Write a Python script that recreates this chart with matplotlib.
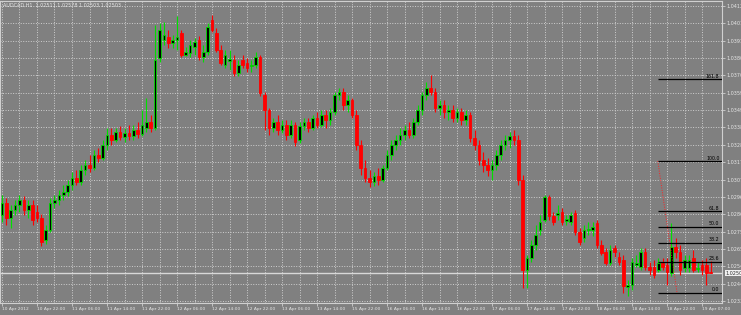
import matplotlib
matplotlib.use('Agg')
import matplotlib.pyplot as plt

# AUDCAD H1 candles, 10 Apr 14:00 .. 19 Apr 07:00 (2012)
opens = [1.02855, 1.02928, 1.02837, 1.02886, 1.02916, 1.02946, 1.02886, 1.02916, 1.02874, 1.02837,
         1.02704, 1.02765, 1.02928, 1.02946, 1.02976, 1.02995, 1.03037, 1.03079, 1.03055, 1.03128,
         1.03158, 1.03140, 1.03218, 1.03200, 1.03279, 1.03339, 1.03309, 1.03358, 1.03327, 1.03352,
         1.03333, 1.03370, 1.03346, 1.03382, 1.03418, 1.03382, 1.03805, 1.03914, 1.03932, 1.03896,
         1.03914, 1.03956, 1.03823, 1.03835, 1.03872, 1.03914, 1.03811, 1.03841, 1.04035, 1.03956,
         1.03853, 1.03763, 1.03787, 1.03793, 1.03715, 1.03793, 1.03775, 1.03757, 1.03763, 1.03811,
         1.03581, 1.03491, 1.03382, 1.03418, 1.03370, 1.03400, 1.03339, 1.03400, 1.03309, 1.03394,
         1.03418, 1.03382, 1.03442, 1.03400, 1.03460, 1.03430, 1.03479, 1.03581, 1.03600, 1.03521,
         1.03551, 1.03460, 1.03279, 1.03140, 1.03079, 1.03055, 1.03091, 1.03067, 1.03140, 1.03218,
         1.03279, 1.03309, 1.03339, 1.03370, 1.03339, 1.03418, 1.03491, 1.03581, 1.03624, 1.03600,
         1.03503, 1.03521, 1.03479, 1.03491, 1.03442, 1.03479, 1.03430, 1.03460, 1.03321, 1.03279,
         1.03188, 1.03158, 1.03128, 1.03158, 1.03218, 1.03279, 1.03309, 1.03333, 1.03309, 1.03067,
         1.02523, 1.02595, 1.02674, 1.02765, 1.02825, 1.02964, 1.02849, 1.02855, 1.02874, 1.02819,
         1.02813, 1.02868, 1.02753, 1.02716, 1.02765, 1.02765, 1.02807, 1.02674, 1.02632, 1.02565,
         1.02656, 1.02601, 1.02583, 1.02420, 1.02432, 1.02553, 1.02541, 1.02632, 1.02541, 1.02541,
         1.02523, 1.02565, 1.02553, 1.02505, 1.02662, 1.02632, 1.02535, 1.02535, 1.02595, 1.02529,
         1.02553, 1.02553, 1.02511]
highs = [1.02976, 1.02958, 1.02916, 1.02946, 1.02976, 1.02970, 1.02946, 1.02946, 1.02916, 1.02861,
         1.02795, 1.02958, 1.02976, 1.03007, 1.03037, 1.03067, 1.03116, 1.03128, 1.03158, 1.03188,
         1.03218, 1.03249, 1.03261, 1.03309, 1.03382, 1.03382, 1.03382, 1.03394, 1.03382, 1.03400,
         1.03400, 1.03418, 1.03491, 1.03563, 1.03460, 1.04005, 1.04017, 1.04023, 1.03974, 1.03944,
         1.04059, 1.03974, 1.03872, 1.03914, 1.03926, 1.03938, 1.03884, 1.04017, 1.04065, 1.03986,
         1.03884, 1.03853, 1.03853, 1.03823, 1.03793, 1.03823, 1.03805, 1.03793, 1.03841, 1.03823,
         1.03600, 1.03503, 1.03442, 1.03460, 1.03430, 1.03430, 1.03430, 1.03418, 1.03418, 1.03442,
         1.03442, 1.03460, 1.03479, 1.03491, 1.03491, 1.03503, 1.03600, 1.03624, 1.03624, 1.03581,
         1.03563, 1.03491, 1.03309, 1.03188, 1.03128, 1.03116, 1.03140, 1.03158, 1.03249, 1.03309,
         1.03339, 1.03382, 1.03400, 1.03418, 1.03442, 1.03521, 1.03600, 1.03660, 1.03702, 1.03624,
         1.03551, 1.03551, 1.03521, 1.03521, 1.03503, 1.03503, 1.03491, 1.03479, 1.03370, 1.03309,
         1.03237, 1.03200, 1.03188, 1.03249, 1.03309, 1.03339, 1.03358, 1.03370, 1.03339, 1.03097,
         1.02613, 1.02704, 1.02795, 1.02855, 1.02976, 1.02976, 1.02874, 1.02916, 1.02898, 1.02855,
         1.02874, 1.02886, 1.02777, 1.02795, 1.02813, 1.02813, 1.02825, 1.02704, 1.02656, 1.02674,
         1.02674, 1.02632, 1.02613, 1.02462, 1.02595, 1.02613, 1.02656, 1.02656, 1.02571, 1.02583,
         1.02595, 1.02595, 1.02595, 1.02807, 1.02716, 1.02674, 1.02613, 1.02613, 1.02644, 1.02571,
         1.02583, 1.02595, 1.02578]
lows = [1.02813, 1.02795, 1.02777, 1.02855, 1.02874, 1.02855, 1.02837, 1.02795, 1.02813, 1.02668,
        1.02680, 1.02753, 1.02898, 1.02916, 1.02946, 1.02970, 1.03007, 1.03037, 1.03037, 1.03097,
        1.03116, 1.03128, 1.03176, 1.03188, 1.03249, 1.03279, 1.03297, 1.03309, 1.03297, 1.03309,
        1.03309, 1.03321, 1.03333, 1.03358, 1.03358, 1.03370, 1.03781, 1.03884, 1.03866, 1.03866,
        1.03853, 1.03811, 1.03817, 1.03811, 1.03823, 1.03793, 1.03781, 1.03823, 1.03962, 1.03841,
        1.03763, 1.03745, 1.03733, 1.03696, 1.03696, 1.03745, 1.03721, 1.03721, 1.03745, 1.03575,
        1.03370, 1.03339, 1.03358, 1.03339, 1.03352, 1.03309, 1.03321, 1.03273, 1.03291, 1.03370,
        1.03358, 1.03370, 1.03382, 1.03388, 1.03382, 1.03400, 1.03460, 1.03551, 1.03491, 1.03479,
        1.03442, 1.03249, 1.03097, 1.03055, 1.03025, 1.03031, 1.03037, 1.03055, 1.03128, 1.03188,
        1.03249, 1.03279, 1.03309, 1.03321, 1.03321, 1.03400, 1.03460, 1.03551, 1.03581, 1.03479,
        1.03460, 1.03442, 1.03430, 1.03418, 1.03418, 1.03400, 1.03400, 1.03297, 1.03249, 1.03158,
        1.03116, 1.03091, 1.03067, 1.03128, 1.03188, 1.03249, 1.03261, 1.03279, 1.03037, 1.02414,
        1.02414, 1.02571, 1.02644, 1.02734, 1.02813, 1.02825, 1.02795, 1.02825, 1.02795, 1.02795,
        1.02795, 1.02734, 1.02674, 1.02692, 1.02734, 1.02728, 1.02656, 1.02613, 1.02553, 1.02553,
        1.02601, 1.02553, 1.02384, 1.02365, 1.02402, 1.02541, 1.02523, 1.02523, 1.02492, 1.02474,
        1.02511, 1.02523, 1.02432, 1.02486, 1.02595, 1.02492, 1.02511, 1.02511, 1.02511, 1.02511,
        1.02492, 1.02432, 1.02503]
closes = [1.02928, 1.02837, 1.02886, 1.02916, 1.02946, 1.02886, 1.02916, 1.02825, 1.02837, 1.02692,
          1.02765, 1.02928, 1.02946, 1.02976, 1.02995, 1.03037, 1.03079, 1.03055, 1.03128, 1.03158,
          1.03140, 1.03218, 1.03200, 1.03279, 1.03339, 1.03309, 1.03358, 1.03327, 1.03352, 1.03333,
          1.03370, 1.03346, 1.03400, 1.03418, 1.03382, 1.03793, 1.03974, 1.03944, 1.03896, 1.03914,
          1.03932, 1.03823, 1.03841, 1.03884, 1.03902, 1.03811, 1.03841, 1.03992, 1.03974, 1.03853,
          1.03775, 1.03823, 1.03799, 1.03715, 1.03763, 1.03763, 1.03745, 1.03763, 1.03811, 1.03594,
          1.03491, 1.03382, 1.03418, 1.03370, 1.03400, 1.03339, 1.03400, 1.03297, 1.03394, 1.03418,
          1.03382, 1.03442, 1.03400, 1.03460, 1.03430, 1.03479, 1.03581, 1.03600, 1.03521, 1.03551,
          1.03460, 1.03279, 1.03140, 1.03079, 1.03055, 1.03091, 1.03067, 1.03140, 1.03218, 1.03279,
          1.03309, 1.03339, 1.03370, 1.03339, 1.03418, 1.03491, 1.03581, 1.03624, 1.03600, 1.03503,
          1.03521, 1.03479, 1.03491, 1.03442, 1.03479, 1.03430, 1.03460, 1.03321, 1.03279, 1.03188,
          1.03158, 1.03128, 1.03158, 1.03218, 1.03279, 1.03309, 1.03333, 1.03309, 1.03067, 1.02523,
          1.02595, 1.02674, 1.02734, 1.02813, 1.02964, 1.02849, 1.02813, 1.02868, 1.02813, 1.02831,
          1.02855, 1.02753, 1.02692, 1.02765, 1.02771, 1.02783, 1.02674, 1.02626, 1.02565, 1.02644,
          1.02632, 1.02571, 1.02426, 1.02432, 1.02571, 1.02565, 1.02632, 1.02541, 1.02523, 1.02492,
          1.02565, 1.02541, 1.02511, 1.02662, 1.02632, 1.02523, 1.02583, 1.02583, 1.02523, 1.02535,
          1.02523, 1.02505, 1.02503]

time_labels = ['10 Apr 2012', '10 Apr 22:00', '11 Apr 06:00', '11 Apr 14:00', '11 Apr 22:00',
               '12 Apr 06:00', '12 Apr 14:00', '12 Apr 22:00', '13 Apr 06:00', '13 Apr 14:00',
               '15 Apr 22:00', '16 Apr 06:00', '16 Apr 14:00', '16 Apr 22:00', '17 Apr 06:00',
               '17 Apr 14:00', '17 Apr 22:00', '18 Apr 06:00', '18 Apr 14:00', '18 Apr 22:00',
               '19 Apr 07:00']
price_ticks = [1.04120, 1.04015, 1.03910, 1.03805, 1.03700, 1.03595, 1.03490, 1.03385, 1.03280,
               1.03175, 1.03070, 1.02965, 1.02860, 1.02755, 1.02650, 1.02545, 1.02440, 1.02335]

bid = 1.02503
fib_high = 1.03182
fib_low = 1.02384
fib_levels = [1.618, 1.0, 0.618, 0.5, 0.382, 0.236, 0.0]
fib_names = ['161.8', '100.0', '61.8', '50.0', '38.2', '23.6', '0.0']

BG = '#808080'
GRID = '#cfcfcf'
TXT = '#e6e6e6'
UP = '#00e000'
DN = '#ff0000'
NARROW = ['Liberation Sans Narrow', 'DejaVu Sans']

fig = plt.figure(figsize=(7.41, 3.15), dpi=100, facecolor=BG)
ax = fig.add_axes([0, 12 / 315, 722 / 741, 302 / 315])
ax.set_facecolor(BG)
ax.set_xlim(-0.457, 164.57)
ax.set_ylim(1.02323, 1.04150)

# grid
for v in range(0, 161, 4):
    ax.axvline(v, color=GRID, lw=0.7, ls=(0, (1, 1.6)), zorder=1)
for p in price_ticks:
    ax.axhline(p, color=GRID, lw=0.7, ls=(0, (1, 1.6)), zorder=1)

# bid line
ax.axhline(bid, color='#d8d8d8', lw=1.0, zorder=1.5)

# candles
w = 0.62
for i in range(len(opens)):
    o, h, l, c = opens[i], highs[i], lows[i], closes[i]
    up = c >= o
    col = UP if up else DN
    ax.vlines(i, l, h, color=col, lw=0.8, zorder=2)
    lo, hi = min(o, c), max(o, c)
    if hi - lo < 0.00003:
        ax.hlines((o + c) / 2, i - w / 2, i + w / 2, color=col, lw=0.8, zorder=3)
    else:
        ax.bar(i, hi - lo, bottom=lo, width=w, color='black' if up else DN,
               edgecolor=col, linewidth=0.6, zorder=3)

# fibonacci retracement
x0, x1 = 149.9, 164.5
ax.plot([x0, 154.3], [fib_high, fib_low], color='#ff2020', lw=0.7, ls=(0, (1, 1.5)), zorder=4)
for lev, name in zip(fib_levels, fib_names):
    y = fib_low + lev * (fib_high - fib_low)
    ax.hlines(y, x0, x1, color='black', lw=0.9, zorder=4)
    ax.text(164.0, y + 0.00003, name, fontsize=3.4, color='black', ha='right', va='bottom',
            family=NARROW, zorder=5)

# axes styling
for s in ax.spines.values():
    s.set_color('#d0d0d0')
    s.set_linewidth(0.8)
ax.yaxis.tick_right()
ax.set_yticks(price_ticks)
ax.set_yticklabels([f'{p:.5f}' for p in price_ticks])
ax.set_xticks(range(0, 161, 8))
ax.set_xticklabels(time_labels)
for lbl in ax.get_xticklabels():
    lbl.set_ha('left')
    lbl.set_fontsize(3.2)
    lbl.set_family(NARROW)
for lbl in ax.get_yticklabels():
    lbl.set_fontsize(3.5)
ax.tick_params(axis='both', colors='#d0d0d0', labelcolor=TXT, length=2, width=0.6, pad=1.2)

# bid label
ax.annotate(f'{bid:.5f}', xy=(1.0, bid), xycoords=('axes fraction', 'data'),
            xytext=(2.5, 0), textcoords='offset points', fontsize=3.5, color='#303030',
            va='center', ha='left', annotation_clip=False,
            bbox=dict(boxstyle='square,pad=0.15', fc='#f0f0f0', ec='none'))

ax.text(0.004, 0.993, 'AUDCAD,H1  1.02511 1.02578 1.02503 1.02503', transform=ax.transAxes,
        fontsize=3.5, color=TXT, va='top', ha='left')

fig.savefig('out.png', dpi=100, facecolor=BG)
